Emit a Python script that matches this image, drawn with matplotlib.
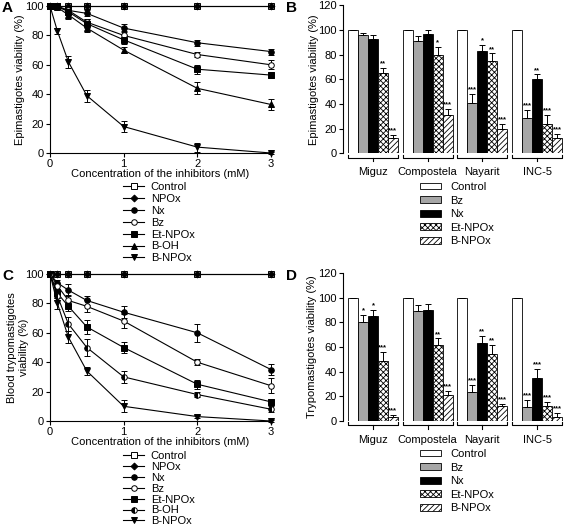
import matplotlib
matplotlib.use("Agg")
import matplotlib.pyplot as plt
import numpy as np
from matplotlib.lines import Line2D
from matplotlib.patches import Patch

plt.rcParams['font.family'] = ['Liberation Sans', 'DejaVu Sans']
plt.rcParams['hatch.linewidth'] = 0.6

# ---------------- data ----------------
conc = [0, 0.1, 0.25, 0.5, 1, 2, 3]
line_names = ['Control', 'NPOx', 'Nx', 'Bz', 'Et-NPOx', 'B-OH', 'B-NPOx']

epi_control = [100, 100, 100, 100, 100, 100, 100]
epi_npox = [100, 100, 100, 100, 100, 100, 100]
epi_nx = [100, 100, 97, 95, 85, 75, 69]
epi_bz = [100, 99, 97, 89, 80, 67, 60]
epi_et = [100, 100, 96, 88, 77, 57, 53]
epi_boh = [100, 99, 94, 85, 70, 44, 33]
epi_bnpox = [100, 83, 62, 39, 18, 4, 0]
epi_err_nx = [0, 0, 2, 2, 3, 2, 2]
epi_err_bz = [0, 1, 2, 2, 3, 2, 3]
epi_err_et = [0, 0, 2, 3, 3, 3, 2]
epi_err_boh = [0, 1, 3, 3, 2, 4, 4]
epi_err_bnpox = [0, 2, 4, 4, 4, 3, 1]

try_control = [100, 100, 100, 100, 100, 100, 100]
try_npox = [100, 100, 100, 100, 100, 100, 100]
try_nx = [100, 94, 89, 82, 74, 60, 35]
try_bz = [100, 92, 82, 78, 68, 40, 24]
try_et = [100, 87, 78, 64, 50, 25, 13]
try_boh = [100, 85, 66, 50, 30, 18, 8]
try_bnpox = [100, 80, 57, 34, 10, 3, 0]
try_err_nx = [0, 2, 4, 3, 4, 6, 4]
try_err_bz = [0, 2, 4, 4, 5, 2, 5]
try_err_et = [0, 3, 3, 5, 4, 3, 2]
try_err_boh = [0, 3, 5, 6, 4, 2, 2]
try_err_bnpox = [0, 4, 4, 3, 4, 1, 1]

strains = ['Miguz', 'Compostela', 'Nayarit', 'INC-5']
bar_names = ['Control', 'Bz', 'Nx', 'Et-NPOx', 'B-NPOx']

B_control = [100, 100, 100, 100]
B_bz = [96, 91, 41, 29]
B_nx = [93, 97, 83, 60]
B_et = [65, 80, 75, 24]
B_bnpox = [12, 31, 20, 12]
B_err_control = [0, 0, 0, 0]
B_err_bz = [1.5, 4, 7, 6]
B_err_nx = [3, 3, 5, 4]
B_err_et = [4, 6, 6, 7]
B_err_bnpox = [3, 5, 4, 4]
B_stars_bz = ['', '', '***', '***']
B_stars_nx = ['', '', '*', '**']
B_stars_et = ['**', '*', '**', '***']
B_stars_bnpox = ['***', '***', '***', '***']

D_control = [100, 100, 100, 100]
D_bz = [80, 89, 23, 11]
D_nx = [85, 90, 63, 35]
D_et = [49, 62, 54, 12]
D_bnpox = [3, 21, 12, 3]
D_err_control = [0, 0, 0, 0]
D_err_bz = [6, 5, 6, 6]
D_err_nx = [5, 5, 6, 7]
D_err_et = [7, 5, 8, 3]
D_err_bnpox = [2, 3, 2, 3]
D_stars_bz = ['*', '', '***', '***']
D_stars_nx = ['*', '', '**', '***']
D_stars_et = ['***', '**', '**', '***']
D_stars_bnpox = ['***', '***', '***', '***']

# ---------------- figure ----------------
W, H = 567, 530
fig = plt.figure(figsize=(W / 100, H / 100), dpi=100)


def box(l, t, r, b):
    return [l / W, 1 - b / H, (r - l) / W, (b - t) / H]


FS = 8
LW = 0.8


def style_axes(ax):
    for s in ['top', 'right']:
        ax.spines[s].set_visible(False)
    for s in ['left', 'bottom']:
        ax.spines[s].set_linewidth(LW)
    ax.tick_params(direction='out', length=3, width=LW, labelsize=FS, pad=1.5)


def line_panel(ax, series, errs, styles, ylabel, ylab_x):
    handles = []
    for name, y, e, st in zip(line_names, series, errs, styles):
        mk, fill = st
        kw = dict(marker=mk, color='black', lw=LW, ms=4, mew=0.7,
                  clip_on=False, zorder=3)
        if fill == 'open':
            kw.update(mfc='white', mec='black')
        elif fill == 'left':
            kw.update(fillstyle='left', mfc='black', mfcalt='white', mec='black')
        else:
            kw.update(mfc='black', mec='black')
        if name == 'NPOx':
            kw['ms'] = 3.5
        if e is not None:
            ax.errorbar(conc, y, yerr=e, capsize=2.2, elinewidth=0.7, capthick=0.7, **kw)
        else:
            ax.plot(conc, y, **kw)
        handles.append(Line2D([], [], **{k: v for k, v in kw.items() if k not in ('clip_on', 'zorder')}))
    ax.set_xlim(0, 3)
    ax.set_ylim(0, 100)
    ax.set_xticks([0, 1, 2, 3])
    ax.set_yticks(range(0, 101, 20))
    style_axes(ax)
    ax.set_xlabel('Concentration of the inhibitors (mM)', fontsize=FS, labelpad=0)
    ax.set_ylabel(ylabel, fontsize=FS, va='center', ha='center')
    ax.yaxis.set_label_coords(ylab_x, 0.5)
    return handles


styles_A = [('s', 'open'), ('D', 'fill'), ('o', 'fill'), ('o', 'open'),
            ('s', 'fill'), ('^', 'fill'), ('v', 'fill')]
styles_C = [('s', 'open'), ('D', 'fill'), ('o', 'fill'), ('o', 'open'),
            ('s', 'fill'), ('o', 'left'), ('v', 'fill')]

axA = fig.add_axes(box(50, 6, 271, 153))
hA = line_panel(axA,
                [epi_control, epi_npox, epi_nx, epi_bz, epi_et, epi_boh, epi_bnpox],
                [None, None, epi_err_nx, epi_err_bz, epi_err_et, epi_err_boh, epi_err_bnpox],
                styles_A, 'Epimastigotes viability (%)', (20 - 50) / 221)

axC = fig.add_axes(box(50, 274, 271, 421))
hC = line_panel(axC,
                [try_control, try_npox, try_nx, try_bz, try_et, try_boh, try_bnpox],
                [None, None, try_err_nx, try_err_bz, try_err_et, try_err_boh, try_err_bnpox],
                styles_C, 'Blood trypomastigotes\nviability (%)', (18 - 50) / 221)

leg_kw = dict(loc='upper left', frameon=False, fontsize=FS, handlelength=1.9,
              handletextpad=0.6, borderpad=0, borderaxespad=0)
fig.legend(hA, line_names, bbox_to_anchor=(123 / W, 1 - 182 / H), labelspacing=0.17, **leg_kw)
fig.legend(hC, line_names, bbox_to_anchor=(123 / W, 1 - 451 / H), labelspacing=0.08, **leg_kw)

# ---------------- bar panels ----------------
bar_styles = [dict(color='white', hatch=None), dict(color='#a6a6a6', hatch=None),
              dict(color='black', hatch=None), dict(color='white', hatch='xxxxxx'),
              dict(color='white', hatch='//////')]
PITCH = 5.47


def bar_panel(ax, vals, errs, stars, ylabel, ylab_x):
    handles = []
    for j, (v, e, st, sty) in enumerate(zip(vals, errs, stars, bar_styles)):
        x = np.arange(len(strains)) * PITCH + j
        ax.bar(x, v, width=1.0, color=sty['color'], edgecolor='black',
               linewidth=0.6, hatch=sty['hatch'], zorder=2)
        ax.errorbar(x, v, yerr=[np.zeros(len(e)), e], fmt='none', ecolor='black',
                    elinewidth=0.7, capsize=2.2, capthick=0.7, zorder=3)
        for xi, vi, ei, si in zip(x, v, e, st):
            if si:
                ax.text(xi, vi + ei + 0.5, si, ha='center', va='bottom',
                        fontsize=5.5, fontweight='bold')
        handles.append(Patch(facecolor=sty['color'], edgecolor='black',
                             linewidth=0.6, hatch=sty['hatch']))
    ax.set_xlim(-1.0, 3 * PITCH + 4 + 0.8)
    ax.set_ylim(0, 120)
    ax.set_yticks(range(0, 121, 20))
    style_axes(ax)
    ax.spines['bottom'].set_visible(False)
    ax.set_xticks([])
    ax.set_ylabel(ylabel, fontsize=FS, va='center', ha='center')
    ax.yaxis.set_label_coords(ylab_x, 0.5)
    trans = ax.get_xaxis_transform()
    for i, name in enumerate(strains):
        x0 = i * PITCH - 0.5
        x1 = i * PITCH + 4.5
        xc = i * PITCH + 2
        ax.plot([x0, x0, x1, x1], [-0.012, -0.03, -0.03, -0.012], color='black',
                lw=LW, transform=trans, clip_on=False)
        ax.plot([xc, xc], [-0.03, -0.055], color='black', lw=LW,
                transform=trans, clip_on=False)
        ax.text(xc, -0.128, name, ha='center', va='center', fontsize=FS, transform=trans)
    return handles


axB = fig.add_axes(box(343, 5.3, 565, 153.3))
hB = bar_panel(axB, [B_control, B_bz, B_nx, B_et, B_bnpox],
               [B_err_control, B_err_bz, B_err_nx, B_err_et, B_err_bnpox],
               [['', '', '', ''], B_stars_bz, B_stars_nx, B_stars_et, B_stars_bnpox],
               'Epimastigotes viability (%)', (314 - 343) / 222)

axD = fig.add_axes(box(343, 273.3, 565, 420.7))
hD = bar_panel(axD, [D_control, D_bz, D_nx, D_et, D_bnpox],
               [D_err_control, D_err_bz, D_err_nx, D_err_et, D_err_bnpox],
               [['', '', '', ''], D_stars_bz, D_stars_nx, D_stars_et, D_stars_bnpox],
               'Trypomastigotes viability (%)', (312 - 343) / 222)

bleg_kw = dict(loc='upper left', frameon=False, fontsize=FS, handlelength=1.9,
               handleheight=0.55, handletextpad=0.8, labelspacing=0.32,
               borderpad=0, borderaxespad=0)
fig.legend(hB, bar_names, bbox_to_anchor=(420 / W, 1 - 182 / H), **bleg_kw)
fig.legend(hD, bar_names, bbox_to_anchor=(420 / W, 1 - 449 / H), **bleg_kw)

# panel letters
for lab, x, y in [('A', 2, 8), ('B', 286, 8), ('C', 2, 276), ('D', 286, 276)]:
    fig.text(x / W, 1 - y / H, lab, fontsize=11, fontweight='bold', va='center', ha='left')

fig.savefig('out.png', dpi=100)
